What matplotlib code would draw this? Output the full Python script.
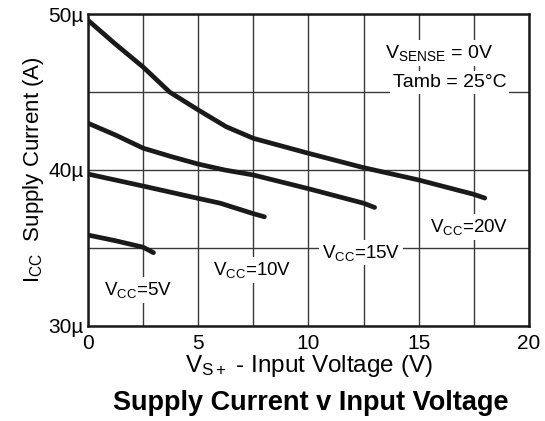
import matplotlib.pyplot as plt
import numpy as np

plt.rcParams['font.family'] = ['Liberation Sans', 'DejaVu Sans']
plt.rcParams['mathtext.fontset'] = 'custom'
plt.rcParams['mathtext.rm'] = 'Liberation Sans'
plt.rcParams['mathtext.it'] = 'Liberation Sans'

# Curves (input voltage V, supply current uA)
v20 = [0, 1.22, 2.5, 3.7, 5, 6.26, 7.5, 10, 12.5, 15, 17.5, 18]
i20 = [49.6, 48.1, 46.6, 45.0, 43.85, 42.78, 42.03, 41.07, 40.15, 39.36, 38.44, 38.2]
v15 = [0, 1.25, 2.5, 3.8, 5, 6.2, 7.5, 10, 12.5, 13]
i15 = [43.0, 42.24, 41.4, 40.85, 40.38, 40.0, 39.68, 38.8, 37.87, 37.6]
v10 = [0, 2.5, 5, 6, 7.5, 8]
i10 = [39.74, 38.97, 38.18, 37.87, 37.2, 37.0]
v5 = [0, 1.23, 2.5, 2.97]
i5 = [35.83, 35.47, 35.05, 34.7]

curves = [(v20, i20), (v15, i15), (v10, i10), (v5, i5)]
labels = [(2.25, 32.3, '5V'), (7.44, 33.6, '10V'), (12.4, 34.7, '15V'), (17.3, 36.35, '20V')]

fig = plt.figure(figsize=(5.45, 4.21), dpi=100)
ax = fig.add_axes([0.1615, 0.2257, 0.809, 0.741])

for v, i in curves:
    ax.plot(v, i, color='#1a1a1a', lw=3.4, solid_capstyle='round',
            solid_joinstyle='round', zorder=3)

ax.set_xlim(0, 20)
ax.set_ylim(30, 50)
ax.set_xticks([0, 5, 10, 15, 20])
ax.set_xticks(np.arange(2.5, 20, 5), minor=True)
ax.set_yticks([30, 40, 50])
ax.set_yticks([35, 45], minor=True)
ax.set_yticklabels(['30\u00b5', '40\u00b5', '50\u00b5'])
ax.grid(True, which='both', color='#3a3a3a', lw=1.0, zorder=0)
ax.tick_params(which='both', length=0, labelsize=15, pad=3)
ax.tick_params(axis='x', pad=6)
for s in ax.spines.values():
    s.set_linewidth(1.8)
    s.set_color('#1a1a1a')

box = dict(facecolor='white', edgecolor='none', pad=2)
for x, y, t in labels:
    ax.text(x, y, r'$\mathrm{V_{CC}}$=' + t, ha='center', va='center', fontsize=13.5, bbox=box, zorder=4)

ax.text(15.9, 47.5, r'$\mathrm{V_{SENSE}}$ = 0V', ha='center', va='center', fontsize=14, bbox=box, zorder=4)
ax.text(16.4, 45.6, 'Tamb = 25\u00b0C', ha='center', va='center', fontsize=14, bbox=box, zorder=4)

ax.set_xlabel(r'$\mathrm{V_{S+}}$ - Input Voltage (V)', fontsize=17.5, labelpad=0)
ax.set_ylabel(r'$\mathrm{I_{CC}}$  Supply Current (A)', fontsize=16, labelpad=2)
fig.text(0.571, 0.043, 'Supply Current v Input Voltage', ha='center', va='center',
         fontsize=19.5, fontweight='bold')

fig.savefig('out.png', dpi=100)
